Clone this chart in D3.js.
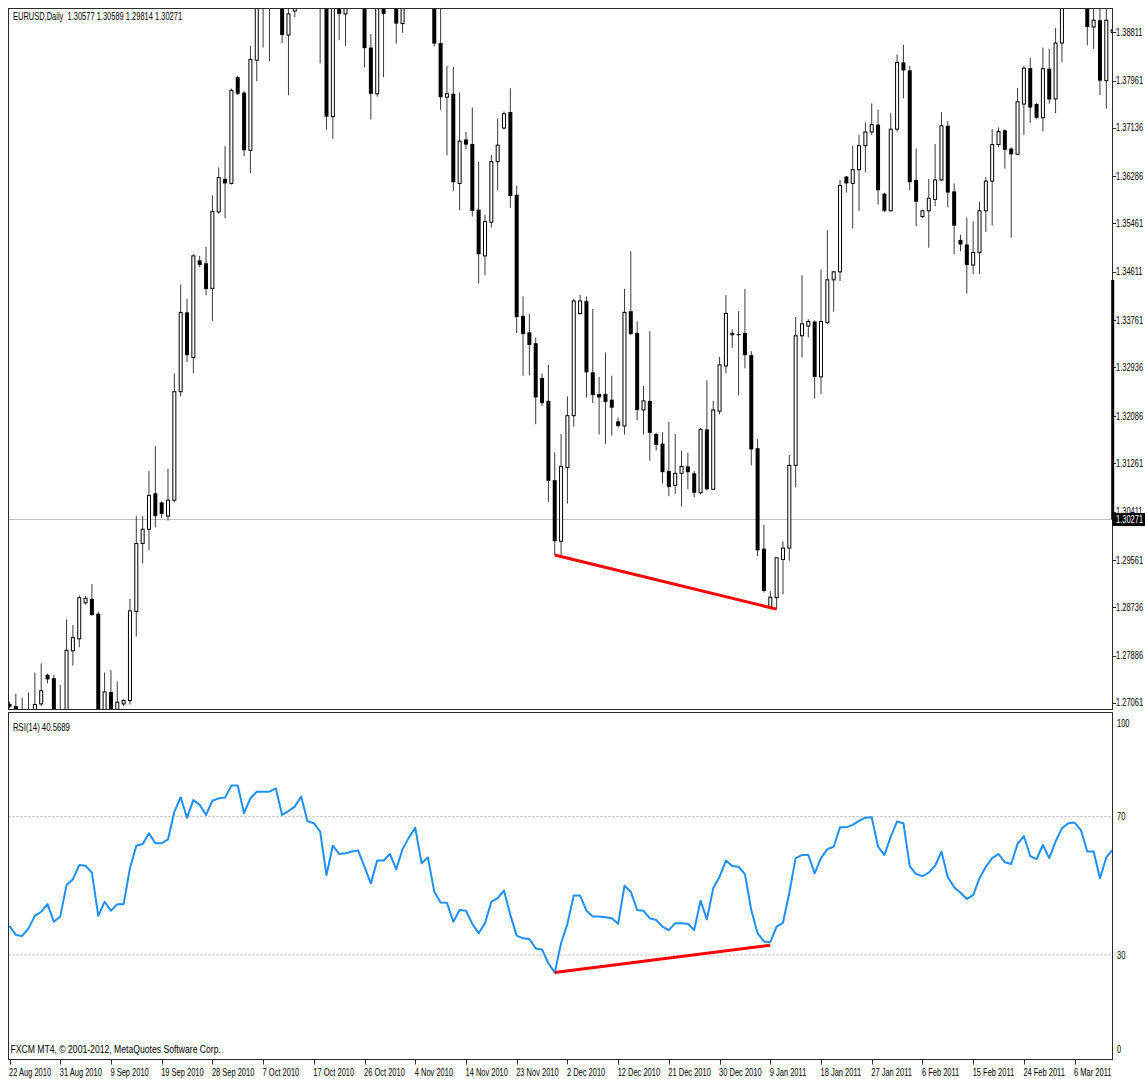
<!DOCTYPE html>
<html>
<head>
<meta charset="utf-8">
<script src="https://cdn.jsdelivr.net/npm/d3@7"></script>
<style>
  html, body { margin: 0; padding: 0; background: #fff; }
  svg { display: block; }
</style>
</head>
<body>
<svg id="chart" width="1145" height="1079"></svg>
<script>
// EURUSD daily bars, Sun 22 Aug 2010 .. Sun 13 Mar 2011 (six bars per week)
const openP = [
  1.2704,1.2700,1.2665,1.2625,1.2680,1.2704,1.2755,1.2749,1.2665,1.2680,
  1.2797,1.2818,1.2881,1.2888,1.2862,1.2672,1.2725,1.2688,1.2704,1.2710,
  1.2866,1.2985,1.3010,1.3073,1.3057,1.3033,1.3061,1.3251,1.3390,1.3311,
  1.3481,1.3476,1.3432,1.3566,1.3624,1.3616,1.3802,1.3775,1.3674,1.3832,
  1.3935,1.3958,1.3985,1.3975,1.3876,1.3918,1.4010,1.4110,1.3960,1.3965,
  1.3935,1.3733,1.3955,1.3913,1.3960,1.3965,1.3950,1.3854,1.3773,1.3935,
  1.3925,1.3940,1.3896,1.4040,1.4090,1.4200,1.4020,1.4015,1.3862,1.3767,
  1.3773,1.3616,1.3693,1.3685,1.3570,1.3489,1.3548,1.3654,1.3713,1.3741,
  1.3596,1.3384,1.3355,1.3336,1.3275,1.3235,1.3096,1.2989,1.3118,1.3209,
  1.3388,1.3410,1.3285,1.3247,1.3247,1.3237,1.3199,1.3191,1.3392,1.3354,
  1.3219,1.3235,1.3177,1.3160,1.3112,1.3087,1.3108,1.3120,1.3108,1.3074,
  1.3185,1.3080,1.3217,1.3296,1.3354,1.3352,1.3354,1.3315,1.3152,1.2976,
  1.2874,1.2890,1.2957,1.2977,1.3122,1.3349,1.3366,1.3374,1.3277,1.3372,
  1.3447,1.3461,1.3628,1.3616,1.3640,1.3682,1.3706,1.3719,1.3598,1.3568,
  1.3711,1.3828,1.3814,1.3622,1.3558,1.3568,1.3588,1.3622,1.3717,1.3602,
  1.3517,1.3509,1.3473,1.3495,1.3568,1.3620,1.3684,1.3709,1.3677,1.3667,
  1.3755,1.3818,1.3755,1.3731,1.3817,1.3764,1.3862,1.3970,1.4010,1.4020,
  1.3985,1.3890,1.3902,1.3796,1.3880
];
const highP = [
  1.2708,1.2722,1.2715,1.2724,1.2759,1.2775,1.2757,1.2755,1.2737,1.2852,
  1.2842,1.2894,1.2893,1.2914,1.2866,1.2759,1.2763,1.2743,1.2712,1.2888,
  1.3033,1.3033,1.3112,1.3156,1.3059,1.3116,1.3283,1.3439,1.3414,1.3492,
  1.3489,1.3505,1.3595,1.3644,1.3681,1.3782,1.3804,1.3778,1.3857,1.3985,
  1.4030,1.4015,1.4000,1.4000,1.3960,1.4030,1.4160,1.4155,1.3975,1.3990,
  1.3960,1.3975,1.4015,1.3980,1.3975,1.4040,1.3980,1.3878,1.3960,1.3970,
  1.3945,1.4000,1.4060,1.4100,1.4282,1.4210,1.4035,1.4030,1.3940,1.3822,
  1.3820,1.3775,1.3706,1.3749,1.3654,1.3561,1.3666,1.3730,1.3742,1.3783,
  1.3612,1.3418,1.3387,1.3346,1.3283,1.3298,1.3145,1.3177,1.3243,1.3414,
  1.3421,1.3418,1.3396,1.3277,1.3320,1.3279,1.3206,1.3431,1.3497,1.3374,
  1.3261,1.3357,1.3179,1.3180,1.3198,1.3177,1.3148,1.3144,1.3112,1.3187,
  1.3271,1.3235,1.3312,1.3420,1.3360,1.3392,1.3431,1.3322,1.3168,1.3018,
  1.2902,1.2960,1.2989,1.3140,1.3382,1.3455,1.3378,1.3376,1.3465,1.3534,
  1.3463,1.3622,1.3629,1.3682,1.3701,1.3723,1.3756,1.3745,1.3599,1.3739,
  1.3842,1.3859,1.3822,1.3677,1.3570,1.3624,1.3685,1.3741,1.3725,1.3616,
  1.3526,1.3556,1.3549,1.3584,1.3627,1.3711,1.3714,1.3711,1.3679,1.3783,
  1.3822,1.3836,1.3757,1.3854,1.3852,1.3888,1.3990,1.4035,1.4030,1.4035,
  1.4000,1.3945,1.3940,1.3935,1.3895
];
const lowP = [
  1.2696,1.2650,1.2590,1.2590,1.2670,1.2700,1.2740,1.2650,1.2640,1.2670,
  1.2771,1.2803,1.2878,1.2858,1.2660,1.2665,1.2660,1.2680,1.2700,1.2703,
  1.2822,1.2950,1.2973,1.3014,1.3030,1.3025,1.3057,1.3243,1.3303,1.3283,
  1.3469,1.3420,1.3375,1.3563,1.3555,1.3614,1.3771,1.3664,1.3634,1.3795,
  1.3854,1.3830,1.3960,1.3862,1.3771,1.3907,1.3990,1.3935,1.3950,1.3826,
  1.3710,1.3694,1.3867,1.3857,1.3945,1.3925,1.3820,1.3728,1.3768,1.3802,
  1.3922,1.3861,1.3880,1.3960,1.4060,1.4000,1.4005,1.3856,1.3745,1.3665,
  1.3602,1.3569,1.3676,1.3558,1.3441,1.3455,1.3539,1.3604,1.3710,1.3573,
  1.3354,1.3279,1.3280,1.3194,1.3226,1.3058,1.2965,1.2965,1.3055,1.3190,
  1.3386,1.3241,1.3231,1.3176,1.3159,1.3174,1.3188,1.3176,1.3350,1.3201,
  1.3176,1.3130,1.3148,1.3090,1.3068,1.3072,1.3050,1.3080,1.3066,1.3072,
  1.3078,1.3079,1.3211,1.3283,1.3328,1.3245,1.3292,1.3122,1.2963,1.2899,
  1.2870,1.2870,1.2896,1.2955,1.3084,1.3311,1.3346,1.3239,1.3247,1.3370,
  1.3391,1.3445,1.3600,1.3537,1.3568,1.3636,1.3701,1.3579,1.3566,1.3567,
  1.3707,1.3765,1.3604,1.3541,1.3555,1.3503,1.3576,1.3620,1.3574,1.3492,
  1.3497,1.3423,1.3457,1.3457,1.3531,1.3542,1.3680,1.3642,1.3521,1.3666,
  1.3701,1.3722,1.3729,1.3707,1.3756,1.3739,1.3828,1.3935,1.3995,1.3925,
  1.3858,1.3852,1.3771,1.3747,1.3870
];
const closeP = [
  1.2699,1.2660,1.2620,1.2680,1.2703,1.2727,1.2747,1.2665,1.2680,1.2798,
  1.2820,1.2890,1.2889,1.2860,1.2670,1.2725,1.2685,1.2707,1.2710,1.2867,
  1.2985,1.3010,1.3069,1.3033,1.3037,1.3061,1.3251,1.3390,1.3315,1.3489,
  1.3473,1.3431,1.3567,1.3626,1.3616,1.3779,1.3773,1.3674,1.3833,1.3935,
  1.3960,1.3990,1.3975,1.3876,1.3913,1.4010,1.4110,1.3965,1.3965,1.3935,
  1.3733,1.3955,1.3913,1.3955,1.3965,1.3950,1.3853,1.3773,1.3930,1.3913,
  1.3940,1.3896,1.4040,1.4090,1.4200,1.4030,1.4015,1.3861,1.3767,1.3773,
  1.3618,1.3690,1.3684,1.3568,1.3492,1.3549,1.3654,1.3683,1.3738,1.3594,
  1.3382,1.3352,1.3333,1.3241,1.3231,1.3095,1.2989,1.3120,1.3209,1.3410,
  1.3410,1.3285,1.3245,1.3241,1.3233,1.3223,1.3191,1.3390,1.3352,1.3219,
  1.3235,1.3179,1.3158,1.3110,1.3084,1.3108,1.3120,1.3110,1.3074,1.3185,
  1.3080,1.3219,1.3298,1.3388,1.3350,1.3350,1.3315,1.3150,1.2973,1.2902,
  1.2891,1.2960,1.2977,1.3122,1.3349,1.3370,1.3374,1.3277,1.3374,1.3447,
  1.3461,1.3612,1.3616,1.3640,1.3682,1.3706,1.3719,1.3604,1.3568,1.3711,
  1.3828,1.3814,1.3618,1.3584,1.3568,1.3590,1.3622,1.3717,1.3600,1.3542,
  1.3509,1.3473,1.3495,1.3568,1.3620,1.3684,1.3707,1.3675,1.3667,1.3759,
  1.3818,1.3749,1.3731,1.3817,1.3763,1.3862,1.3970,1.4000,1.4020,1.3985,
  1.3890,1.3902,1.3796,1.3902,1.3885
];
// RSI(14) per bar
const rsi14 = [
  38.4,35.8,35.5,37.7,41.3,42.5,44.7,39.6,41.1,50.2,
  51.9,56.0,55.8,53.8,41.3,45.4,42.8,44.7,44.7,55.1,
  61.6,62.1,65.2,62.3,62.3,63.4,71.4,75.6,69.7,74.8,
  73.4,70.5,74.6,75.3,75.5,79.0,79.0,71.0,75.3,77.2,
  77.2,77.2,78.2,70.5,71.6,72.9,75.8,68.7,68.1,65.7,
  53.1,61.6,59.2,59.4,59.9,60.2,55.5,50.7,57.3,57.3,
  59.2,54.8,60.6,64.0,66.8,56.5,58.2,48.3,45.2,45.1,
  39.6,43.0,42.8,39.0,36.3,39.2,45.4,46.4,48.6,41.6,
  35.6,34.8,34.6,31.9,31.6,27.6,24.9,33.4,39.0,47.2,
  47.2,42.8,41.1,41.1,40.9,40.6,39.0,50.0,48.3,43.0,
  42.8,40.6,40.1,38.2,37.2,39.2,39.2,39.0,37.2,45.7,
  40.3,49.3,52.6,57.3,55.7,55.5,53.4,43.0,36.3,33.9,
  33.7,38.2,39.3,48.0,58.0,58.9,58.9,53.6,58.0,60.6,
  61.3,66.9,66.9,67.6,68.8,69.7,69.8,61.3,58.9,64.2,
  68.6,68.1,55.7,53.4,52.8,53.8,55.8,59.9,52.5,49.6,
  48.0,46.2,47.3,52.2,55.5,58.0,59.2,56.8,56.3,62.1,
  64.4,58.6,57.7,61.8,58.0,62.8,66.6,68.1,68.3,66.1,
  59.9,59.9,52.2,58.2,60.4
];

const dateTickLabels = [
  "22 Aug 2010","31 Aug 2010","9 Sep 2010","19 Sep 2010","28 Sep 2010","7 Oct 2010",
  "17 Oct 2010","26 Oct 2010","4 Nov 2010","14 Nov 2010","23 Nov 2010","2 Dec 2010",
  "12 Dec 2010","21 Dec 2010","30 Dec 2010","9 Jan 2011","18 Jan 2011","27 Jan 2011",
  "6 Feb 2011","15 Feb 2011","24 Feb 2011","6 Mar 2011"
];
const dateTickBars = [0,8,16,24,32,40,48,56,64,72,80,88,96,104,112,120,128,136,144,152,160,168];

const priceTicks = [1.38811,1.37961,1.37136,1.36286,1.35461,1.34611,1.33761,1.32936,
  1.32086,1.31261,1.30411,1.29561,1.28736,1.27886,1.27061];
const rsiTicks = [100, 70, 30, 0];
const rsiLevels = [70, 30];

// divergence trend lines: [bar index, value]
const priceDivergence = [[86, 1.2965], [121, 1.2870]];
const rsiDivergence = [[86, 24.9], [120, 32.8]];

const lastPrice = 1.30271;
const headerText = "EURUSD,Daily  1.30577 1.30589 1.29814 1.30271";
const rsiHeaderText = "RSI(14) 40.5689";
const footerText = "FXCM MT4, \u00A9 2001-2012, MetaQuotes Software Corp.";

// ---- layout ----
const W = 1145, H = 1079;
const left = 8.5, right = 1112.5;
const pTop = 8.5, pBottom = 709.5;
const rTop = 712.5, rBottom = 1059.5;
const FONT = "'Liberation Sans', Arial, sans-serif";
const NARROW = 0.75;   // horizontal squeeze of the terminal's narrow font

const svg = d3.select("#chart");
svg.append("rect").attr("width", W).attr("height", H).attr("fill", "#fff");

const x = d3.scaleLinear().domain([0, 173]).range([9.5, 1106.3]);
const yP = d3.scaleLinear().domain([1.27061, 1.38811]).range([702.7, 32.1]);
const yR = d3.scaleLinear().domain([0, 100]).range([1058.7, 712.9]);

const defs = svg.append("defs");
defs.append("clipPath").attr("id", "clipPrice")
  .append("rect").attr("x", left + 0.5).attr("y", pTop + 0.5)
  .attr("width", right - left - 0.5).attr("height", pBottom - pTop - 1);
defs.append("clipPath").attr("id", "clipRsi")
  .append("rect").attr("x", left + 0.5).attr("y", rTop + 0.5)
  .attr("width", right - left - 0.5).attr("height", rBottom - rTop - 1);

// places a text at (tx, ty) with a horizontal squeeze
function label(parent, tx, ty, str, size, k, color) {
  return parent.append("text")
    .attr("transform", `translate(${tx},${ty}) scale(${k},1)`)
    .attr("font-family", FONT).attr("font-size", size)
    .attr("fill", color || "#000")
    .style("white-space", "pre")
    .text(str);
}

// ---- price panel ----
const gP = svg.append("g").attr("clip-path", "url(#clipPrice)");

// last price line
gP.append("line")
  .attr("x1", left).attr("x2", right)
  .attr("y1", yP(lastPrice)).attr("y2", yP(lastPrice))
  .attr("stroke", "#c0c0c0").attr("stroke-width", 1);

const bars = d3.range(openP.length);

// wicks
gP.append("g").selectAll("line").data(bars).join("line")
  .attr("x1", i => x(i)).attr("x2", i => x(i))
  .attr("y1", i => yP(highP[i])).attr("y2", i => yP(lowP[i]))
  .attr("stroke", "#3a3a3a").attr("stroke-width", 1);

// bodies
gP.append("g").selectAll("rect").data(bars).join("rect")
  .attr("x", i => closeP[i] >= openP[i] ? x(i) - 1.5 : x(i) - 2)
  .attr("width", i => closeP[i] >= openP[i] ? 3 : 4)
  .attr("y", i => yP(Math.max(openP[i], closeP[i])))
  .attr("height", i => Math.max(1, yP(Math.min(openP[i], closeP[i])) - yP(Math.max(openP[i], closeP[i]))))
  .attr("fill", i => closeP[i] >= openP[i] ? "#fff" : "#000")
  .attr("stroke", i => closeP[i] >= openP[i] ? "#000" : "none")
  .attr("stroke-width", 1);

// price divergence line
gP.append("path")
  .attr("d", d3.line().x(d => x(d[0])).y(d => yP(d[1]))(priceDivergence))
  .attr("stroke", "#ff0000").attr("stroke-width", 3).attr("fill", "none");

// ---- RSI panel ----
const gR = svg.append("g").attr("clip-path", "url(#clipRsi)");

gR.append("g").selectAll("line").data(rsiLevels).join("line")
  .attr("x1", left).attr("x2", right)
  .attr("y1", d => yR(d)).attr("y2", d => yR(d))
  .attr("stroke", "#b0b0b0").attr("stroke-width", 1)
  .attr("stroke-dasharray", "2,2");

gR.append("path")
  .datum(rsi14)
  .attr("d", d3.line().x((d, i) => x(i)).y(d => yR(d)))
  .attr("fill", "none").attr("stroke", "#1e90ff").attr("stroke-width", 2)
  .attr("stroke-linejoin", "round");

gR.append("path")
  .attr("d", d3.line().x(d => x(d[0])).y(d => yR(d[1]))(rsiDivergence))
  .attr("stroke", "#ff0000").attr("stroke-width", 3).attr("fill", "none");

// ---- frames ----
const frame = svg.append("g").attr("fill", "none").attr("stroke", "#2a2a2a").attr("stroke-width", 1);
frame.append("rect").attr("x", left).attr("y", pTop).attr("width", right - left).attr("height", pBottom - pTop);
frame.append("rect").attr("x", left).attr("y", rTop).attr("width", right - left).attr("height", rBottom - rTop);

// ---- price axis ----
const axP = svg.append("g");
axP.selectAll("line").data(priceTicks).join("line")
  .attr("x1", right).attr("x2", right + 3.5)
  .attr("y1", d => Math.round(yP(d)) + 0.5).attr("y2", d => Math.round(yP(d)) + 0.5)
  .attr("stroke", "#2a2a2a");
priceTicks.forEach(v => label(axP, right + 3.5, yP(v) + 3.6, v.toFixed(5), 10, NARROW));

// marker bar on the axis edge and last price tag
svg.append("rect").attr("x", 1111.2).attr("y", 280).attr("width", 3).attr("height", yP(lastPrice) - 280)
  .attr("fill", "#000");
svg.append("rect").attr("x", right).attr("y", yP(lastPrice) - 6.5).attr("width", W - right).attr("height", 13)
  .attr("fill", "#000");
label(svg, right + 3.5, yP(lastPrice) + 3.6, lastPrice.toFixed(5), 10, NARROW, "#fff");

// ---- RSI axis ----
const axR = svg.append("g");
rsiTicks.forEach(v => label(axR, right + 4.5,
  Math.min(Math.max(yR(v), rTop + 10.5), rBottom - 10) + 3.6, String(v), 10, NARROW));

// ---- date axis ----
const axD = svg.append("g");
axD.selectAll("line").data(dateTickBars).join("line")
  .attr("x1", i => Math.round(x(i)) + 0.5).attr("x2", i => Math.round(x(i)) + 0.5)
  .attr("y1", rBottom).attr("y2", rBottom + 5)
  .attr("stroke", "#2a2a2a");
dateTickBars.forEach((b, k) => label(axD, x(b) - 0.5, 1076, dateTickLabels[k], 10, NARROW));

// ---- captions ----
label(svg, 13, 20, headerText, 10, NARROW);
label(svg, 13, 731, rsiHeaderText, 10.5, 0.74);
label(svg, 10.5, 1052.5, footerText, 11.5, NARROW);
</script>
</body>
</html>
